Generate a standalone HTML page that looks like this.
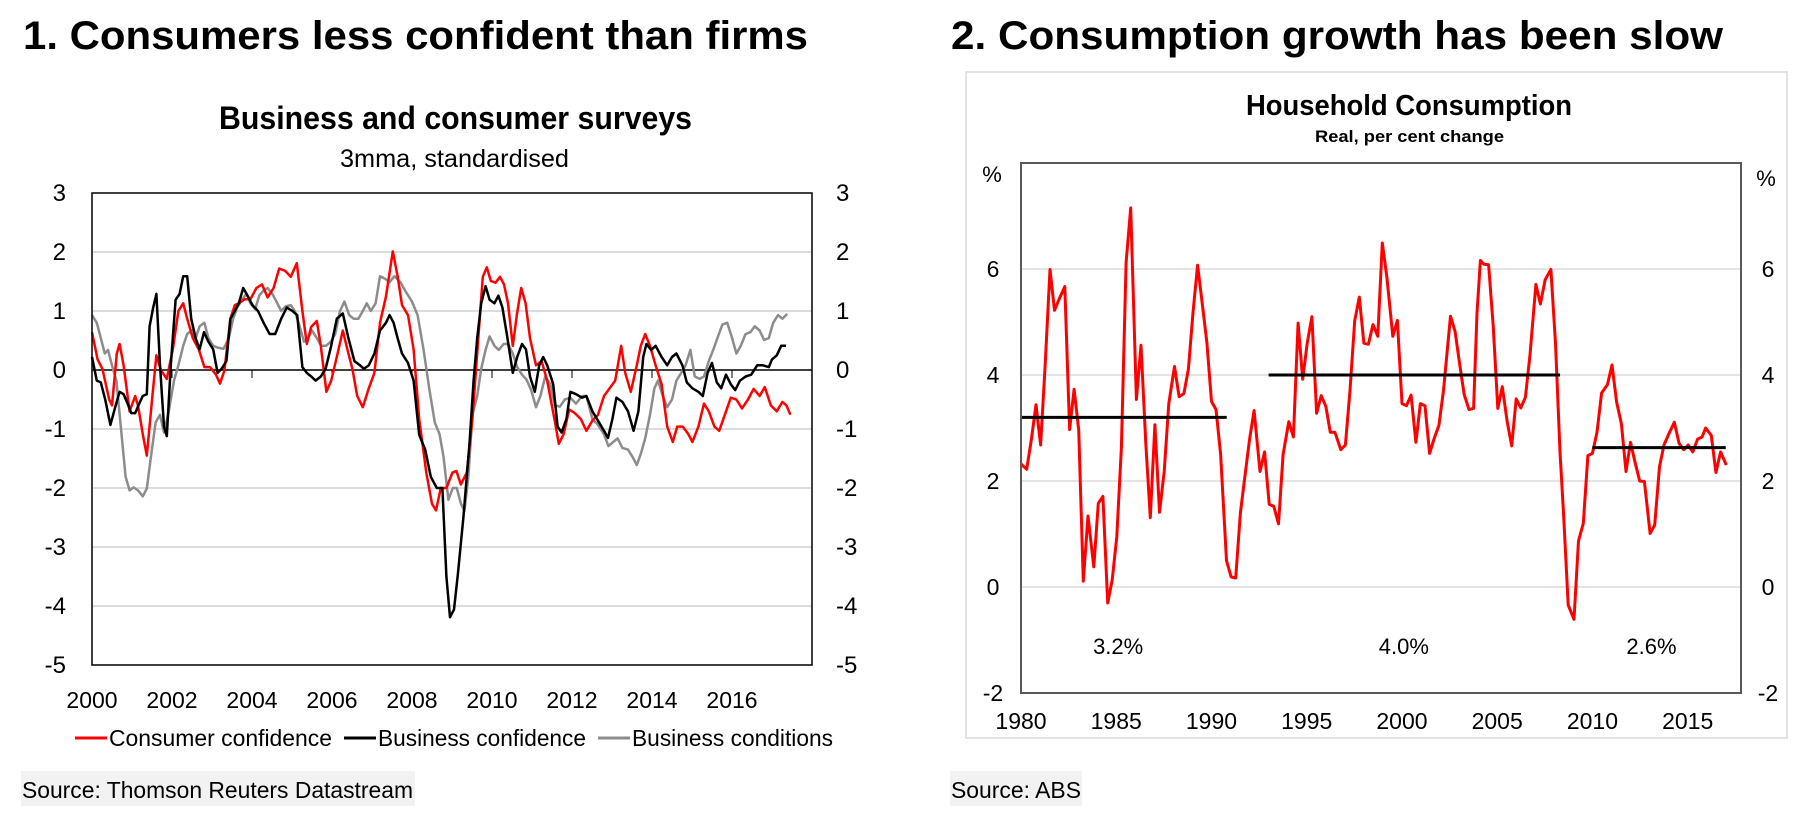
<!DOCTYPE html>
<html><head><meta charset="utf-8"><title>Consumers and consumption</title>
<style>
html,body{margin:0;padding:0;background:#fff;}
svg{display:block;font-family:"Liberation Sans",Arial,sans-serif;}
</style></head>
<body>
<svg id="page" width="1800" height="821" viewBox="0 0 1800 821" xmlns="http://www.w3.org/2000/svg">
  <rect x="0" y="0" width="1800" height="821" fill="#fff"/>
  <text x="23" y="49" font-size="40" font-weight="bold" textLength="785" lengthAdjust="spacingAndGlyphs">1. Consumers less confident than firms</text>
  <text x="951" y="49" font-size="40" font-weight="bold" textLength="772" lengthAdjust="spacingAndGlyphs">2. Consumption growth has been slow</text>

  <text x="219" y="129" font-size="32" font-weight="bold" textLength="473" lengthAdjust="spacingAndGlyphs">Business and consumer surveys</text>
  <text x="340" y="167" font-size="25" textLength="229" lengthAdjust="spacingAndGlyphs">3mma, standardised</text>

  <rect x="966" y="72" width="821" height="666" fill="#fff" stroke="#e3e3e3" stroke-width="2"/>
  <text x="1246" y="115" font-size="29" font-weight="bold" textLength="326" lengthAdjust="spacingAndGlyphs">Household Consumption</text>
  <text x="1315" y="142" font-size="17" font-weight="bold" textLength="189" lengthAdjust="spacingAndGlyphs">Real, per cent change</text>

  <g id="c1"></g>
  <g id="c2"></g>

  <g>
    <line x1="75" y1="738" x2="107" y2="738" stroke="#ff0000" stroke-width="3"/>
    <text x="109" y="746" font-size="23" textLength="223" lengthAdjust="spacingAndGlyphs">Consumer confidence</text>
    <line x1="344" y1="738" x2="376" y2="738" stroke="#000" stroke-width="3"/>
    <text x="378" y="746" font-size="23" textLength="208" lengthAdjust="spacingAndGlyphs">Business confidence</text>
    <line x1="598" y1="738" x2="630" y2="738" stroke="#8c8c8c" stroke-width="3"/>
    <text x="632" y="746" font-size="23" textLength="201" lengthAdjust="spacingAndGlyphs">Business conditions</text>
  </g>

  <rect x="21" y="771" width="394" height="35" fill="#f2f2f2"/>
  <text x="22" y="798" font-size="23" textLength="391" lengthAdjust="spacingAndGlyphs">Source: Thomson Reuters Datastream</text>
  <rect x="950" y="771" width="132" height="35" fill="#f2f2f2"/>
  <text x="951" y="798" font-size="23" textLength="130" lengthAdjust="spacingAndGlyphs">Source: ABS</text>
</svg>
<script>
// ---------- Chart 1 data ----------
const c1YTicks = [3,2,1,0,-1,-2,-3,-4,-5];
const c1XTicks = [2000,2002,2004,2006,2008,2010,2012,2014,2016];
const consumerT = [2000.00,2000.14,2000.26,2000.43,2000.50,2000.62,2000.69,2000.79,2000.94,2001.08,2001.15,2001.27,2001.37,2001.51,2001.61,2001.73,2001.87,2002.02,2002.16,2002.28,2002.38,2002.52,2002.67,2002.81,2002.95,2003.10,2003.20,2003.31,2003.46,2003.57,2003.67,2003.82,2003.96,2004.11,2004.25,2004.39,2004.54,2004.68,2004.83,2004.97,2005.12,2005.26,2005.37,2005.48,2005.62,2005.72,2005.86,2005.98,2006.12,2006.27,2006.41,2006.51,2006.63,2006.77,2006.92,2007.06,2007.20,2007.35,2007.52,2007.64,2007.75,2007.90,2008.04,2008.18,2008.36,2008.50,2008.60,2008.72,2008.86,2009.01,2009.11,2009.22,2009.37,2009.51,2009.65,2009.77,2009.87,2009.97,2010.09,2010.20,2010.30,2010.40,2010.52,2010.62,2010.73,2010.84,2010.95,2011.10,2011.24,2011.38,2011.56,2011.67,2011.79,2011.93,2012.07,2012.22,2012.36,2012.51,2012.65,2012.80,2012.94,2013.08,2013.23,2013.33,2013.47,2013.62,2013.72,2013.83,2013.95,2014.09,2014.24,2014.38,2014.52,2014.63,2014.77,2014.91,2015.01,2015.16,2015.30,2015.42,2015.56,2015.68,2015.82,2015.97,2016.11,2016.25,2016.40,2016.54,2016.69,2016.82,2016.97,2017.12,2017.26,2017.36,2017.46];
const consumerV = [0.64,0.18,0.02,-0.50,-0.60,0.28,0.44,0.08,-0.70,-0.44,-0.60,-1.09,-1.45,-0.44,0.25,-0.01,-0.15,0.35,1.00,1.13,0.87,0.54,0.35,0.05,0.05,-0.08,-0.23,-0.01,0.87,1.10,1.13,1.20,1.20,1.39,1.45,1.23,1.39,1.72,1.68,1.58,1.81,1.00,0.44,0.73,0.83,0.41,-0.37,-0.18,0.22,0.67,0.28,0.02,-0.44,-0.63,-0.31,-0.05,0.80,1.25,2.01,1.59,1.10,0.93,0.35,-0.83,-1.75,-2.27,-2.38,-2.00,-2.00,-1.74,-1.71,-1.94,-1.74,-0.83,0.47,1.58,1.74,1.51,1.48,1.58,1.45,1.13,0.41,0.93,1.39,1.13,0.54,0.08,0.15,-0.18,-0.83,-1.25,-1.09,-0.67,-0.73,-0.83,-1.03,-0.86,-0.76,-0.44,-0.31,-0.18,0.41,-0.05,-0.37,0.08,0.41,0.61,0.41,0.08,-0.24,-0.96,-1.22,-0.96,-0.96,-1.09,-1.22,-0.96,-0.57,-0.70,-0.96,-1.03,-0.76,-0.47,-0.50,-0.65,-0.50,-0.32,-0.44,-0.29,-0.60,-0.70,-0.54,-0.60,-0.76];
const bizConfT = [2000.00,2000.12,2000.22,2000.33,2000.46,2000.58,2000.69,2000.79,2000.89,2000.98,2001.08,2001.18,2001.27,2001.37,2001.44,2001.53,2001.61,2001.70,2001.80,2001.87,2001.97,2002.09,2002.19,2002.28,2002.38,2002.48,2002.59,2002.69,2002.80,2002.91,2003.03,2003.14,2003.24,2003.36,2003.46,2003.57,2003.67,2003.78,2003.89,2004.01,2004.15,2004.29,2004.44,2004.58,2004.73,2004.87,2005.01,2005.13,2005.26,2005.37,2005.48,2005.59,2005.72,2005.84,2005.98,2006.12,2006.27,2006.41,2006.56,2006.70,2006.80,2006.92,2007.06,2007.20,2007.35,2007.44,2007.54,2007.64,2007.75,2007.90,2008.04,2008.18,2008.33,2008.47,2008.62,2008.76,2008.86,2008.95,2009.05,2009.15,2009.29,2009.44,2009.54,2009.63,2009.73,2009.84,2009.94,2010.06,2010.16,2010.26,2010.37,2010.52,2010.63,2010.75,2010.85,2010.95,2011.07,2011.18,2011.28,2011.38,2011.53,2011.64,2011.74,2011.86,2011.96,2012.10,2012.25,2012.36,2012.51,2012.65,2012.80,2012.90,2013.01,2013.11,2013.26,2013.40,2013.54,2013.66,2013.78,2013.86,2013.98,2014.09,2014.24,2014.38,2014.50,2014.61,2014.76,2014.87,2015.01,2015.16,2015.27,2015.39,2015.50,2015.62,2015.73,2015.85,2015.97,2016.08,2016.20,2016.34,2016.48,2016.63,2016.77,2016.92,2017.00,2017.12,2017.23,2017.35];
const bizConfV = [0.22,-0.18,-0.21,-0.50,-0.93,-0.63,-0.37,-0.41,-0.57,-0.73,-0.73,-0.57,-0.44,-0.41,0.74,1.06,1.29,0.08,-0.96,-1.12,0.08,1.19,1.29,1.59,1.59,0.87,0.54,0.35,0.64,0.48,0.35,-0.05,0.02,0.15,0.87,1.00,1.13,1.39,1.26,1.10,1.00,0.80,0.61,0.61,0.87,1.06,1.00,0.93,0.05,-0.05,-0.11,-0.18,-0.11,0.02,0.41,0.87,0.96,0.54,0.15,0.08,0.02,0.08,0.28,0.67,0.80,0.93,0.80,0.54,0.28,0.12,-0.18,-1.10,-1.35,-1.81,-2.00,-2.00,-3.50,-4.19,-4.06,-3.44,-2.46,-1.22,-0.18,0.54,1.13,1.42,1.19,1.13,1.26,1.06,0.61,-0.05,0.22,0.44,0.35,-0.11,-0.37,0.08,0.22,0.08,-0.24,-0.96,-1.06,-0.83,-0.37,-0.41,-0.47,-0.44,-0.70,-0.86,-1.03,-1.15,-0.83,-0.47,-0.54,-0.70,-1.03,-0.70,0.22,0.44,0.34,0.41,0.22,0.08,0.22,0.28,0.08,-0.21,-0.31,-0.37,-0.44,-0.05,0.12,-0.21,-0.31,-0.08,-0.24,-0.34,-0.18,-0.11,-0.08,0.08,0.08,0.05,0.18,0.25,0.41,0.41];
const bizCondT = [2000.00,2000.12,2000.22,2000.32,2000.40,2000.50,2000.61,2000.72,2000.84,2000.94,2001.04,2001.15,2001.27,2001.37,2001.47,2001.59,2001.70,2001.80,2001.92,2002.05,2002.16,2002.28,2002.38,2002.49,2002.59,2002.69,2002.81,2002.91,2003.03,2003.14,2003.29,2003.42,2003.53,2003.63,2003.75,2003.86,2003.96,2004.08,2004.18,2004.29,2004.39,2004.51,2004.61,2004.73,2004.84,2004.97,2005.07,2005.19,2005.30,2005.40,2005.50,2005.62,2005.73,2005.85,2005.97,2006.08,2006.20,2006.31,2006.43,2006.54,2006.66,2006.77,2006.87,2006.97,2007.09,2007.20,2007.32,2007.44,2007.56,2007.71,2007.85,2008.00,2008.14,2008.29,2008.43,2008.57,2008.69,2008.79,2008.91,2009.02,2009.12,2009.22,2009.31,2009.41,2009.51,2009.63,2009.73,2009.84,2009.94,2010.06,2010.17,2010.29,2010.40,2010.52,2010.63,2010.75,2010.86,2010.98,2011.10,2011.21,2011.33,2011.46,2011.57,2011.70,2011.82,2011.96,2012.10,2012.25,2012.36,2012.51,2012.65,2012.80,2012.91,2013.03,2013.14,2013.26,2013.40,2013.52,2013.62,2013.72,2013.83,2013.95,2014.06,2014.15,2014.27,2014.38,2014.50,2014.61,2014.73,2014.84,2014.96,2015.07,2015.19,2015.30,2015.42,2015.53,2015.65,2015.76,2015.88,2015.99,2016.11,2016.22,2016.34,2016.46,2016.57,2016.69,2016.80,2016.92,2017.03,2017.15,2017.26,2017.38];
const bizCondV = [0.93,0.80,0.54,0.28,0.34,0.08,-0.18,-0.96,-1.81,-2.04,-1.99,-2.04,-2.14,-2.01,-1.49,-0.89,-0.76,-1.06,-0.70,-0.18,0.08,0.41,0.61,0.67,0.54,0.74,0.80,0.54,0.41,0.38,0.36,0.54,0.87,1.06,1.19,1.29,1.13,1.03,1.26,1.35,1.39,1.29,1.16,1.00,1.08,1.10,1.00,0.74,0.48,0.54,0.67,0.54,0.41,0.41,0.48,0.61,1.00,1.16,0.93,0.87,0.87,1.00,1.13,1.00,1.13,1.59,1.55,1.49,1.59,1.49,1.32,1.16,0.93,0.34,-0.31,-0.89,-1.09,-1.48,-2.20,-2.00,-2.00,-2.26,-2.39,-1.80,-0.76,-0.44,0.02,0.34,0.57,0.41,0.34,0.44,0.44,0.28,0.05,-0.08,-0.16,-0.34,-0.63,-0.44,-0.11,-0.24,-0.60,-0.62,-0.50,-0.47,-0.57,-0.44,-0.44,-0.83,-0.93,-1.09,-1.29,-1.22,-1.16,-1.32,-1.35,-1.48,-1.61,-1.42,-1.16,-0.76,-0.31,-0.18,-0.44,-0.63,-0.50,-0.18,-0.05,0.08,0.34,-0.11,-0.15,-0.11,0.15,0.34,0.57,0.77,0.80,0.57,0.28,0.41,0.61,0.64,0.74,0.67,0.51,0.54,0.80,0.93,0.87,0.95];

// ---------- Chart 2 data ----------
const c2YTicks = [6,4,2,0,-2];
const c2XTicks = [1980,1985,1990,1995,2000,2005,2010,2015];
const consT = [1980.00,1980.30,1980.55,1980.79,1981.03,1981.27,1981.52,1981.76,1982.00,1982.30,1982.55,1982.79,1983.03,1983.27,1983.52,1983.82,1984.06,1984.30,1984.55,1984.79,1985.03,1985.27,1985.52,1985.76,1986.06,1986.30,1986.55,1986.79,1987.03,1987.27,1987.52,1987.76,1988.06,1988.30,1988.55,1988.79,1989.03,1989.27,1989.52,1989.76,1990.00,1990.24,1990.48,1990.79,1991.03,1991.27,1991.52,1991.76,1992.00,1992.24,1992.55,1992.79,1993.03,1993.27,1993.52,1993.76,1994.06,1994.30,1994.55,1994.79,1995.03,1995.27,1995.52,1995.76,1996.00,1996.24,1996.48,1996.79,1997.03,1997.27,1997.52,1997.76,1998.00,1998.24,1998.48,1998.73,1998.97,1999.21,1999.52,1999.76,2000.00,2000.24,2000.48,2000.73,2000.97,2001.21,2001.45,2001.70,2001.94,2002.18,2002.55,2002.79,2003.03,2003.27,2003.52,2003.76,2003.94,2004.12,2004.30,2004.55,2004.79,2005.03,2005.27,2005.52,2005.76,2006.00,2006.24,2006.48,2006.73,2007.03,2007.27,2007.52,2007.82,2008.06,2008.30,2008.48,2008.73,2009.03,2009.27,2009.52,2009.76,2010.00,2010.24,2010.48,2010.79,2011.03,2011.27,2011.52,2011.76,2012.00,2012.24,2012.48,2012.73,2013.03,2013.27,2013.52,2013.76,2014.00,2014.30,2014.55,2014.79,2015.03,2015.27,2015.52,2015.76,2015.94,2016.24,2016.48,2016.73,2017.03];
const consV = [2.32,2.22,2.80,3.44,2.68,4.20,5.99,5.22,5.43,5.67,2.97,3.73,2.97,0.11,1.34,0.38,1.58,1.71,-0.30,0.13,0.95,2.63,6.12,7.15,3.54,4.56,2.71,1.31,3.06,1.41,2.18,3.46,4.16,3.59,3.65,4.11,5.18,6.07,5.34,4.61,3.50,3.35,2.51,0.50,0.19,0.17,1.40,2.10,2.79,3.33,2.18,2.55,1.56,1.52,1.19,2.50,3.12,2.83,4.98,3.92,4.61,5.10,3.28,3.61,3.41,2.92,2.92,2.59,2.68,3.71,5.02,5.47,4.60,4.58,4.95,4.73,6.49,5.84,4.73,5.03,3.46,3.42,3.62,2.73,3.46,3.42,2.52,2.81,3.05,3.71,5.11,4.82,4.20,3.63,3.35,3.37,5.17,6.16,6.09,6.08,4.93,3.37,3.78,3.13,2.66,3.55,3.38,3.58,4.40,5.71,5.34,5.80,5.99,4.60,2.55,1.40,-0.34,-0.61,0.87,1.20,2.48,2.52,2.92,3.66,3.82,4.19,3.49,3.08,2.18,2.73,2.35,2.00,1.99,1.01,1.17,2.27,2.68,2.88,3.11,2.71,2.59,2.68,2.55,2.79,2.83,3.00,2.86,2.16,2.55,2.30];
const avgStart = [1980.0, 1993.0, 2010.0];
const avgEnd = [1990.8, 2008.3, 2017.0];
const avgValue = [3.2, 4.0, 2.63];
const avgLabels = ["3.2%", "4.0%", "2.6%"];
const avgLabelYear = [1985.1, 2000.1, 2013.1];

const NS = "http://www.w3.org/2000/svg";
function mk(parent, tag, attrs, text) {
  const e = document.createElementNS(NS, tag);
  for (const k in attrs) e.setAttribute(k, attrs[k]);
  if (text !== undefined) e.textContent = text;
  parent.appendChild(e);
  return e;
}
function pathFrom(ts, vs, xf, yf) {
  return ts.map((t, i) => (i ? "L" : "M") + xf(t).toFixed(1) + "," + yf(vs[i]).toFixed(1)).join(" ");
}

// ---------- Chart 1 ----------
(function () {
  const g = document.getElementById("c1");
  const L = 92, R = 812, T = 193, B = 665;
  const x = t => L + (t - 2000) / 18 * (R - L);
  const y = v => T + (3 - v) / 8 * (B - T);
  c1YTicks.forEach(v => {
    if (v !== 0 && v !== 3 && v !== -5) {
      const gl = mk(g, "line", {x1: L, x2: R, y1: y(v), y2: y(v), stroke: "#d0d0d0", "stroke-width": 1.5});
      
      
    }
    const a = mk(g, "text", {x: 66, y: y(v) + 8, "font-size": 24, "text-anchor": "end"}, String(v));
    
    
    const b = mk(g, "text", {x: 836, y: y(v) + 8, "font-size": 24, "text-anchor": "start"}, String(v));
    
    
  });
  c1XTicks.forEach(t => {
    const lb = mk(g, "text", {x: x(t), y: 708, "font-size": 23, "text-anchor": "middle"}, String(t));
    
    
    if (t > 2000) {
      const tk = mk(g, "line", {x1: x(t), x2: x(t), y1: y(0), y2: y(0) + 8, stroke: "#000", "stroke-width": 1});
      
      
    }
  });
  const zl = mk(g, "line", {x1: L, x2: R, y1: y(0), y2: y(0), stroke: "#000", "stroke-width": 1.5});
  
  
  const s3 = mk(g, "path", {d: pathFrom(bizCondT, bizCondV, x, y), fill: "none", stroke: "#8c8c8c", "stroke-width": 2.5, "stroke-linejoin": "round"});
  
  
  const s1 = mk(g, "path", {d: pathFrom(consumerT, consumerV, x, y), fill: "none", stroke: "#ff0000", "stroke-width": 2.5, "stroke-linejoin": "round"});
  
  
  const s2 = mk(g, "path", {d: pathFrom(bizConfT, bizConfV, x, y), fill: "none", stroke: "#000", "stroke-width": 2.5, "stroke-linejoin": "round"});
  
  
  const fr = mk(g, "rect", {x: L, y: T, width: R - L, height: B - T, fill: "none", stroke: "#000", "stroke-width": 1.5});
  
  
})();

// ---------- Chart 2 ----------
(function () {
  const g = document.getElementById("c2");
  const L = 1021, R = 1741, T = 163, B = 693;
  const x = t => L + (t - 1980) / 37.8 * (R - L);
  const y = v => T + (8 - v) / 10 * (B - T);
  c2YTicks.forEach(v => {
    if (v !== -2) {
      const gl = mk(g, "line", {x1: L, x2: R, y1: y(v), y2: y(v), stroke: "#dcdcdc", "stroke-width": 1.5});
      
      
    }
    const a = mk(g, "text", {x: 993, y: y(v) + 8, "font-size": 23, "text-anchor": "middle"}, String(v));
    
    
    const b = mk(g, "text", {x: 1768, y: y(v) + 8, "font-size": 23, "text-anchor": "middle"}, String(v));
    
    
  });
  const pl = mk(g, "text", {x: 992, y: 182, "font-size": 22, "text-anchor": "middle"}, "%");
  
  
  const pr = mk(g, "text", {x: 1766, y: 186, "font-size": 22, "text-anchor": "middle"}, "%");
  
  
  c2XTicks.forEach(t => {
    const lb = mk(g, "text", {x: x(t), y: 729, "font-size": 23, "text-anchor": "middle"}, String(t));
    
    
  });
  const s = mk(g, "path", {d: pathFrom(consT, consV, x, y), fill: "none", stroke: "#ff0000", "stroke-width": 3, "stroke-linejoin": "round"});
  
  
  avgValue.forEach((v, i) => {
    const ln = mk(g, "line", {x1: x(avgStart[i]), x2: x(avgEnd[i]), y1: y(v), y2: y(v), stroke: "#000", "stroke-width": 3});
    
    
    const tx = mk(g, "text", {x: x(avgLabelYear[i]), y: 654, "font-size": 22, "text-anchor": "middle"}, avgLabels[i]);
    
    
  });
  const fr = mk(g, "rect", {x: L, y: T, width: R - L, height: B - T, fill: "none", stroke: "#595959", "stroke-width": 2});
  
  
})();
</script>
</body></html>
